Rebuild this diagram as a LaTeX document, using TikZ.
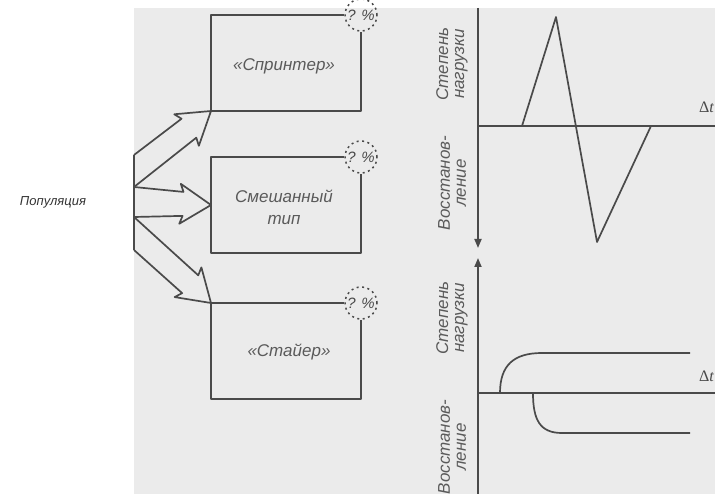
\documentclass[tikz,border=0pt]{standalone}
\usepackage{fontspec}
\setmainfont{Liberation Sans}
\newfontfamily\dtfont{Liberation Serif}
\usetikzlibrary{arrows.meta,calc}
\definecolor{bg}{HTML}{EBEBEB}
\definecolor{ink}{HTML}{4A4A4A}
\definecolor{txt}{HTML}{5A5A5A}
\newcommand{\hollowarrow}[3]{%
  \path ($(#1)!0.5!(#2)$) coordinate (ha-m)
        ($(#3)!28pt!(ha-m)$) coordinate (ha-h)
        ($(#3)!31pt!(ha-m)$) coordinate (ha-b);
  \draw[line] (#1) -- ($(ha-h)!12pt!90:(#3)$) -- ($(ha-b)!20pt!90:(#3)$) -- (#3)
     -- ($(ha-b)!20pt!-90:(#3)$) -- ($(ha-h)!12pt!-90:(#3)$) -- (#2);}
\begin{document}
\begin{tikzpicture}[x=1pt,y=-1pt,
  line/.style={draw=ink,line width=1.7pt,line join=round},
  boxtext/.style={font=\fontsize{17}{22}\selectfont\itshape,text=txt,align=center,inner sep=0pt},
  axislabel/.style={font=\fontsize{17}{16}\selectfont\itshape,text=txt,align=center,rotate=90,inner sep=0pt},
  pct/.style={circle,draw=ink,dash pattern=on 2pt off 3.5pt,line width=1.5pt,minimum size=32pt,inner sep=0pt,font=\fontsize{15}{15}\selectfont\itshape,text=ink},
  axisarrow/.style={line,-{Triangle[length=9pt,width=7pt]}},
  dtlabel/.style={font=\fontsize{16}{16}\selectfont\dtfont,text=ink,inner sep=0pt,anchor=west}]
\useasboundingbox (0,0) rectangle (715,494);
\fill[bg] (134,8) rectangle (715,494);

% population label
\node[font=\fontsize{13}{13}\selectfont\itshape,text=black!80,inner sep=0pt] (pop) at (53,202) {Популяция};

% boxes
\node[pct] (p1) at (361,15) {? \%};
\node[pct] (p2) at (361,157) {? \%};
\node[pct] (p3) at (361,303) {? \%};
\coordinate (b1tl) at (211,15);  \coordinate (b1bl) at (211,111); \coordinate (b1br) at (361,111);
\coordinate (b2tl) at (211,157); \coordinate (b2bl) at (211,253); \coordinate (b2br) at (361,253);
\coordinate (b3tl) at (211,303); \coordinate (b3bl) at (211,399); \coordinate (b3br) at (361,399);
\draw[line] (p1.west) -- (b1tl) -- (b1bl) -- (b1br) -- (p1.south);
\draw[line] (p2.west) -- (b2tl) -- (b2bl) -- (b2br) -- (p2.south);
\draw[line] (p3.west) -- (b3tl) -- (b3bl) -- (b3br) -- (p3.south);
\node[boxtext] (sprinter) at (284,66) {«Спринтер»};
\node[boxtext] (mixed) at (284,207) {Смешанный\\тип};
\node[boxtext] (stayer) at (289,352) {«Стайер»};

% branching arrows
\coordinate (v1) at (134,155);
\coordinate (v2) at (134,187);
\coordinate (v3) at (134,217);
\coordinate (v4) at (134,250);
\coordinate (t2) at (211,205);
\draw[line] (v1) -- (v4);
\hollowarrow{v1}{v2}{b1bl}
\hollowarrow{v2}{v3}{t2}
\hollowarrow{v3}{v4}{b3tl}

% top chart
\coordinate (a1top) at (478,8);
\coordinate (a1end) at (478,248);
\coordinate (h1s) at (478,126);
\coordinate (h1e) at (715,126);
\draw[axisarrow] (a1top) -- (a1end);
\draw[line] (h1s) -- (h1e);
\draw[line] (522,126) -- (556,17) -- (597,242) -- (651,126);
\node[axislabel] (load1) at (452,64) {Степень\\нагрузки};
\node[axislabel] (rec1) at (452,183) {Восстанов-\\ление};
\node[dtlabel] (dt1) at (699,107) {Δ\textit{t}};

% bottom chart
\coordinate (a2bot) at (478,494);
\coordinate (a2end) at (478,258);
\coordinate (h2s) at (478,393);
\coordinate (h2e) at (715,393);
\draw[axisarrow] (a2bot) -- (a2end);
\draw[line] (h2s) -- (h2e);
\draw[line] (500,393) .. controls (500,365) and (514,353) .. (542,353) -- (690,353);
\draw[line] (533,393) .. controls (533,420) and (540,433) .. (562,433) -- (690,433);
\node[axislabel] (load2) at (452,318) {Степень\\нагрузки};
\node[axislabel] (rec2) at (452,447) {Восстанов-\\ление};
\node[dtlabel] (dt2) at (699,376) {Δ\textit{t}};
\end{tikzpicture}
\end{document}
